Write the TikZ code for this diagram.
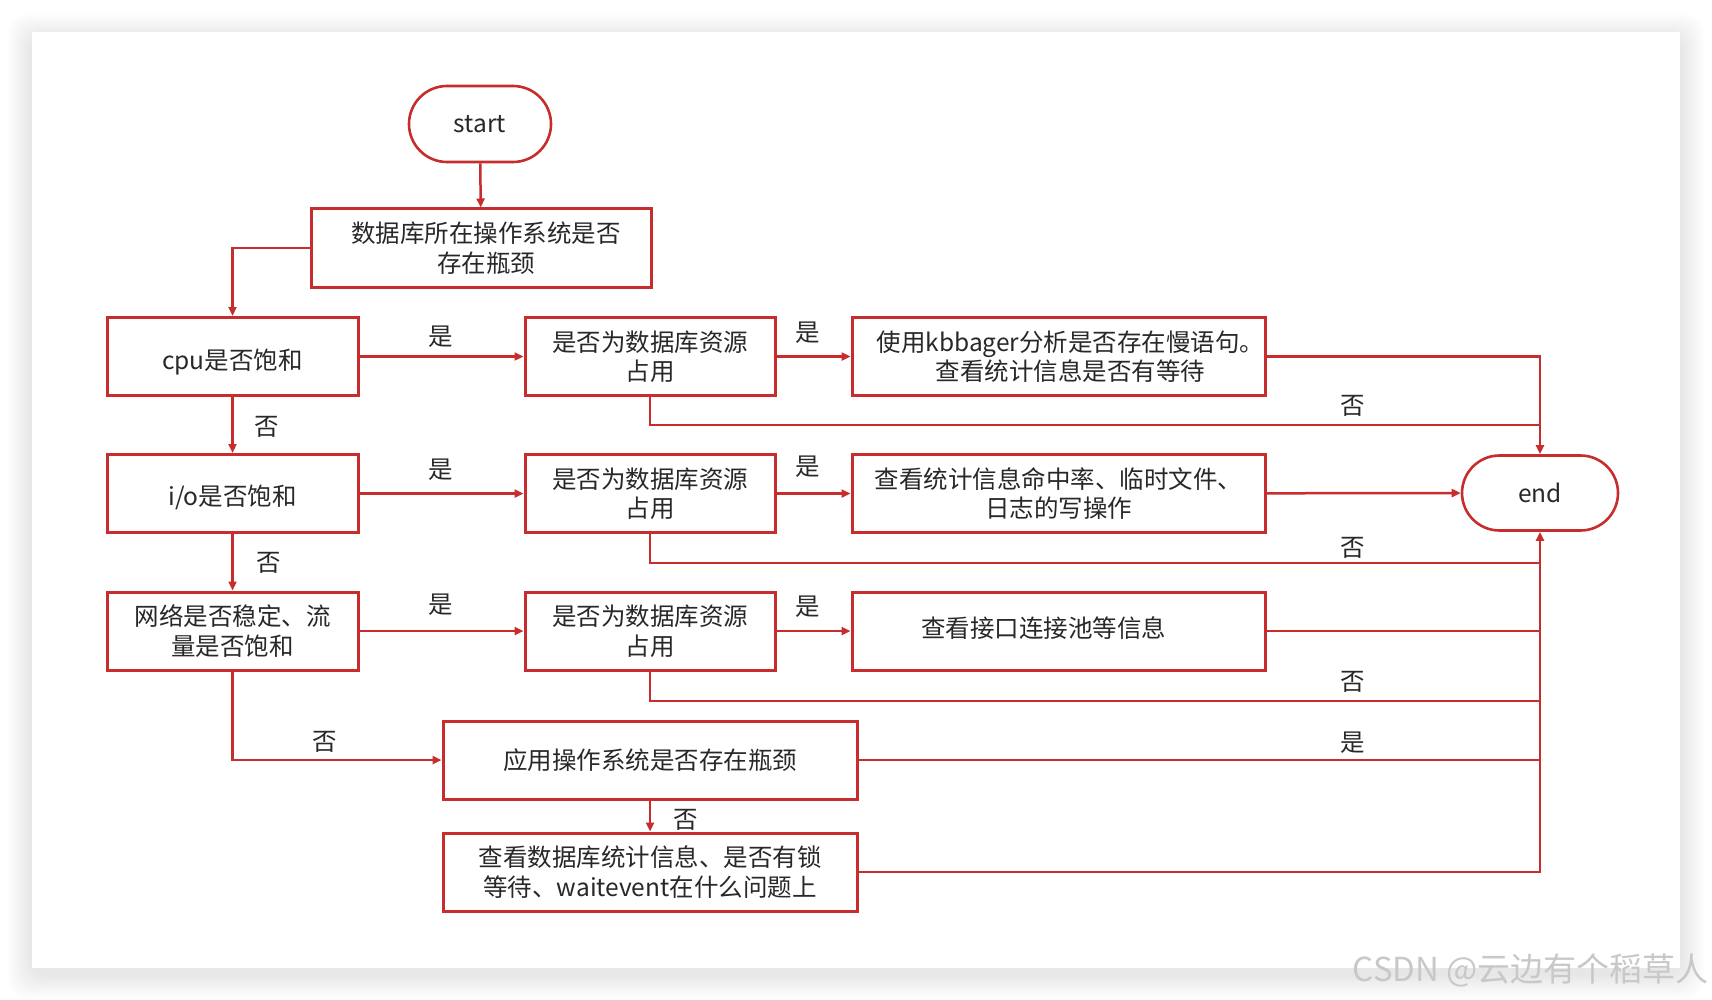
\documentclass[tikz,border=0pt]{standalone}
\usepackage{fontspec}
\setmainfont{Noto Sans CJK SC}
\usetikzlibrary{arrows.meta,shapes.misc}
\definecolor{fr}{RGB}{200,45,45}
\definecolor{tx}{RGB}{40,40,40}
\definecolor{wm}{RGB}{200,200,200}
\newcommand{\shiftv}[2]{\raisebox{#1}[\height][\depth]{#2}}
\begin{document}
\begin{tikzpicture}[x=1pt,y=-1pt,
  font=\fontsize{24.5}{29.5}\selectfont,
  box/.style={draw=fr,line width=3pt,fill=white,minimum width=#1,minimum height=78pt,align=center,text=tx,inner sep=0pt},
  box/.default=251pt,
  term/.style={draw=fr,line width=2.6pt,fill=white,rounded rectangle,minimum width=#1,minimum height=76pt,text=tx,inner sep=0pt},
  conn/.style={draw=fr,line width=2.5pt},
  arr/.style={conn,-{Triangle[length=9pt,width=8pt]}},
  lbl/.style={text=tx,inner sep=0pt}]
% background, soft shadow and card
\fill[white] (0,0) rectangle (1712,1000);
\foreach \i in {1,...,12}
  \fill[black,opacity=0.008,rounded corners=18pt] (32-2*\i,38-2*\i) rectangle (1680+2*\i,974+2*\i);
\fill[white] (32,32) rectangle (1680,968);
\useasboundingbox (0,0) rectangle (1712,1000);
% nodes
\node[term=142pt] (start) at (480,124) {start};
\node[box=340pt] (osq) at (481,248) {\hspace*{10pt}数据库所在操作系统是否\\\hspace*{10pt}存在瓶颈};
\node[box] (cpu) at (232.5,356.5) {\shiftv{-6pt}{cpu是否饱和}};
\node[box=250pt] (q1) at (650,356.5) {是否为数据库资源\\占用};
\node[box=413pt] (a1) at (1058.5,356.5) {\hspace*{24pt}使用kbbager分析是否存在慢语句。\\\hspace*{24pt}查看统计信息是否有等待};
\node[term=156pt,minimum height=75pt] (endn) at (1540,493) {end};
\node[box] (io) at (232.5,493.5) {\shiftv{-4pt}{i/o是否饱和}};
\node[box=250pt] (q2) at (650,493.5) {是否为数据库资源\\占用};
\node[box=413pt] (a2) at (1058.5,493.5) {查看统计信息命中率、临时文件、\\日志的写操作};
\node[box] (net) at (232.5,631) {网络是否稳定、流\\量是否饱和};
\node[box=250pt] (q3) at (650,631) {是否为数据库资源\\占用};
\node[box=413pt] (a3) at (1058.5,631) {\hspace*{-30pt}\shiftv{3pt}{查看接口连接池等信息}};
\node[box=414pt] (app) at (650,760) {应用操作系统是否存在瓶颈};
\node[box=414pt] (db) at (650,872) {查看数据库统计信息、是否有锁\\等待、waitevent在什么问题上};
% junctions on the trunk
\coordinate (j1) at (1540,425);
\coordinate (j2) at (1540,563);
\coordinate (k3) at (1540,631);
\coordinate (j3) at (1540,701);
\coordinate (k4) at (1540,760);
% connectors
\draw[arr] (start) -- (osq);
\draw[arr] (osq.west) -| (cpu.north);
\draw[arr] (cpu) -- (q1);
\draw[arr] (q1) -- (a1);
\draw[arr] (a1.east) -| (endn.north);
\draw[conn] (q1.south) |- (j1);
\draw[arr] (cpu) -- (io);
\draw[arr] (io) -- (q2);
\draw[arr] (q2) -- (a2);
\draw[arr] (a2) -- (endn);
\draw[conn] (q2.south) |- (j2);
\draw[arr] (io) -- (net);
\draw[arr] (net) -- (q3);
\draw[arr] (q3) -- (a3);
\draw[conn] (a3.east) -- (k3);
\draw[conn] (q3.south) |- (j3);
\draw[arr] (net.south) |- (app.west);
\draw[conn] (app.east) -- (k4);
\draw[arr] (app) -- (db);
\draw[arr] (db.east) -| (endn.south);
% labels
\node[lbl] (l1) at (441,337) {是};
\node[lbl] (l2) at (267,427) {否};
\node[lbl] (l3) at (808,333) {是};
\node[lbl] (l4) at (1353,406) {否};
\node[lbl] (l5) at (441,470) {是};
\node[lbl] (l6) at (808,467) {是};
\node[lbl] (l7) at (1353,548) {否};
\node[lbl] (l8) at (269,563) {否};
\node[lbl] (l9) at (441,605) {是};
\node[lbl] (l10) at (808,607) {是};
\node[lbl] (l11) at (1353,682) {否};
\node[lbl] (l12) at (325,742) {否};
\node[lbl] (l13) at (1353,743) {是};
\node[lbl] (l14) at (686,820) {否};
% watermark
\node[text=wm,anchor=east,inner sep=0pt,font=\fontsize{33}{36}\selectfont] (wmk) at (1709,970) {CSDN @云边有个稻草人};
\end{tikzpicture}
\end{document}
